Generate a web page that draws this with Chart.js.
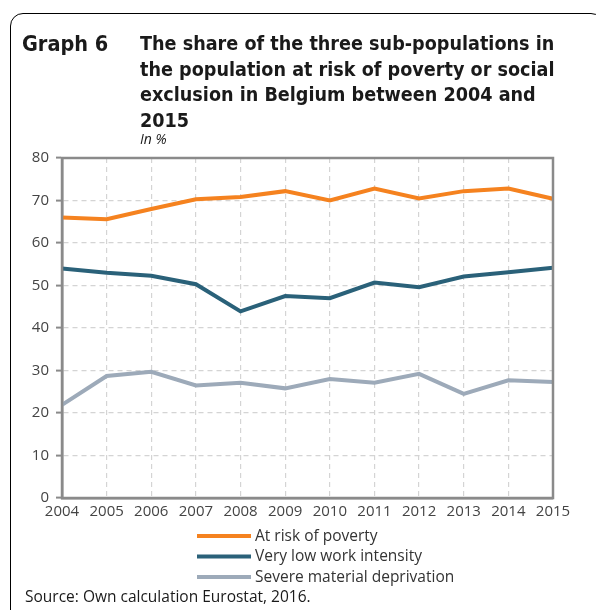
<!DOCTYPE html>
<html>
<head>
<meta charset="utf-8">
<script src="https://cdn.jsdelivr.net/npm/chart.js@4/dist/chart.umd.min.js"></script>
<style>
  html, body { margin:0; padding:0; width:596px; height:610px; overflow:hidden; background:#fff; }
  #frame { position:absolute; left:10px; top:13px; width:594px; height:640px; border:1.5px solid #000; border-radius:13px 13px 0 0; box-sizing:border-box; }
  #chart { position:absolute; left:0; top:0; }
  .t { position:absolute; color:#1a1a1a; white-space:nowrap; }
  #gnum { left:22px; top:30.5px; font-family:"DejaVu Sans Condensed", "DejaVu Sans", sans-serif; font-stretch:condensed; font-weight:bold; font-size:21.5px; line-height:25.7px; }
  #gtitle { left:140px; top:31px; font-family:"DejaVu Sans Condensed", "DejaVu Sans", sans-serif; font-stretch:condensed; font-weight:bold; font-size:19.6px; line-height:25.7px; }
  #unit { left:140px; top:130.5px; font-family:"Open Sans", sans-serif; font-style:italic; font-size:14px; line-height:16px; }
  #source { left:25px; top:587px; font-family:"Open Sans", sans-serif; font-size:15.5px; line-height:18px; }
</style>
</head>
<body>
<div id="frame"></div>
<canvas id="chart" width="596" height="610"></canvas>
<div class="t" id="gnum">Graph 6</div>
<div class="t" id="gtitle">The share of the three sub-populations in<br>the population at risk of poverty or social<br>exclusion in Belgium between 2004 and<br>2015</div>
<div class="t" id="unit">In %</div>
<div class="t" id="source">Source: Own calculation Eurostat, 2016.</div>
<script>
const years = ["2004","2005","2006","2007","2008","2009","2010","2011","2012","2013","2014","2015"];
const seriesNames = ["At risk of poverty", "Very low work intensity", "Severe material deprivation"];
const atRiskOfPoverty = [66.0, 65.6, 68.0, 70.3, 70.8, 72.2, 70.0, 72.8, 70.5, 72.2, 72.8, 70.4];
const veryLowWorkIntensity = [54.0, 53.0, 52.3, 50.3, 43.9, 47.5, 47.0, 50.7, 49.6, 52.1, 53.1, 54.2];
const severeMaterialDeprivation = [21.9, 28.7, 29.7, 26.5, 27.1, 25.8, 28.0, 27.1, 29.2, 24.5, 27.7, 27.3];
const yTicks = [0, 10, 20, 30, 40, 50, 60, 70, 80];

const colors = ["#F5821F", "#2A6179", "#9DAAB9"];
const FONT = "'Open Sans', sans-serif";

const frameBox = {
  id: 'frameBox',
  afterDraw(chart) {
    const {ctx, chartArea:a} = chart;
    ctx.save();
    ctx.strokeStyle = '#8a8a8a';
    ctx.lineWidth = 2.5;
    ctx.strokeRect(a.left, a.top, a.right - a.left, a.bottom - a.top);
    ctx.restore();
  }
};

const customLegend = {
  id: 'customLegend',
  afterDraw(chart) {
    const ctx = chart.ctx;
    ctx.save();
    chart.data.datasets.forEach((ds, i) => {
      const y = 536 + i * 20.5;
      ctx.strokeStyle = ds.borderColor;
      ctx.lineWidth = 4;
      ctx.beginPath();
      ctx.moveTo(197, y);
      ctx.lineTo(251, y);
      ctx.stroke();
      ctx.fillStyle = '#333';
      ctx.font = '15.5px ' + FONT;
      ctx.textBaseline = 'middle';
      ctx.fillText(ds.label, 255, y + 0.5);
    });
    ctx.restore();
  }
};

new Chart(document.getElementById('chart'), {
  type: 'line',
  data: {
    labels: years,
    datasets: [
      { label: seriesNames[0], data: atRiskOfPoverty, borderColor: colors[0] },
      { label: seriesNames[1], data: veryLowWorkIntensity, borderColor: colors[1] },
      { label: seriesNames[2], data: severeMaterialDeprivation, borderColor: colors[2] }
    ].map(d => Object.assign(d, { borderWidth: 4, pointRadius: 0, tension: 0, fill: false, borderCapStyle: 'butt' }))
  },
  options: {
    responsive: false,
    animation: false,
    layout: { padding: { left: 0, top: 158, right: 43, bottom: 82 } },
    plugins: { legend: { display: false }, tooltip: { enabled: false } },
    scales: {
      x: {
        offset: false,
        afterFit: s => { s.height = 30; },
        grid: { color: '#d4d4d4', lineWidth: 1.2, drawTicks: false },
        border: { display: true, color: '#8a8a8a', width: 2.5, dash: [5, 4] },
        ticks: { color: '#444', font: { family: FONT, size: 15 }, padding: 5, maxRotation: 0, autoSkip: false }
      },
      y: {
        min: 0, max: 80,
        afterFit: s => { s.width = 62; },
        afterBuildTicks: s => { s.ticks = yTicks.map(v => ({ value: v })); },
        grid: { color: '#d4d4d4', lineWidth: 1.2, tickLength: 6, tickColor: '#8a8a8a', tickWidth: 2 },
        border: { display: true, color: '#8a8a8a', width: 2.5, dash: [5, 4] },
        ticks: { color: '#444', font: { family: FONT, size: 15 }, padding: 7 }
      }
    }
  },
  plugins: [frameBox, customLegend]
});
</script>
</body>
</html>
